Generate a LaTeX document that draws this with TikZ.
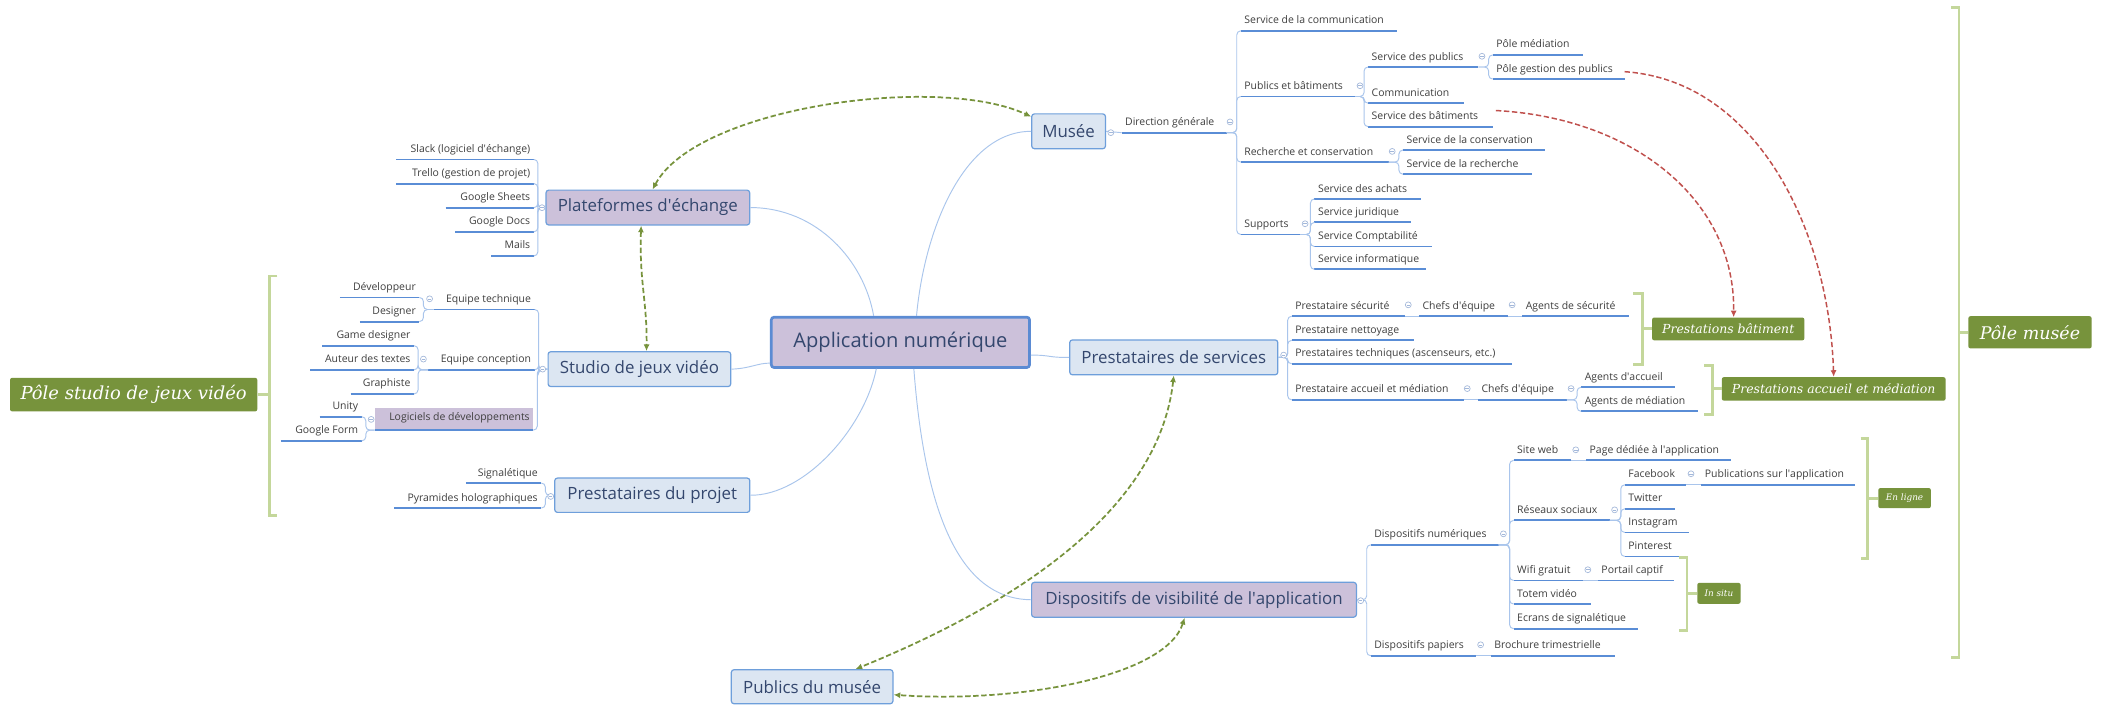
\documentclass[tikz,border=0pt]{standalone}
\usepackage{fontspec}
\setmainfont{Open Sans}
\newfontfamily\labfont{DejaVu Serif}
\usetikzlibrary{arrows.meta}
\newcommand\aq{\textquotesingle}
\definecolor{boxfill}{HTML}{DCE6F2}
\definecolor{lavfill}{HTML}{CCC1DA}
\definecolor{boxline}{HTML}{6E9FDB}
\definecolor{cboxline}{HTML}{5B8BD3}
\definecolor{boxtext}{HTML}{34476E}
\definecolor{subtext}{HTML}{3F3F3F}
\definecolor{ulcol}{HTML}{5A8DD6}
\definecolor{brcol}{HTML}{A9C5EC}
\definecolor{mkcol}{HTML}{A3B8DA}
\definecolor{grncol}{HTML}{77933C}
\definecolor{brkcol}{HTML}{C4D79B}
\definecolor{redcol}{HTML}{C0504D}
\tikzset{
  tbox/.style={draw=boxline, line width=0.9pt, rounded corners=2pt, fill=boxfill, text=boxtext, font=\fontsize{12.6}{14}\selectfont, inner sep=0pt},
  tboxL/.style={tbox, fill=lavfill},
  cbox/.style={tbox, fill=lavfill, line width=2pt, draw=cboxline, font=\fontsize{15}{17}\selectfont},
  stx/.style={inner xsep=2.5pt, inner ysep=0.8pt, text height=6.3pt, text depth=4.2pt, text=subtext, font=\fontsize{7.8}{9}\selectfont},
  uln/.style={draw=ulcol, line width=1.4pt},
  brn/.style={draw=brcol, line width=0.7pt, rounded corners=3pt},
  mkr/.style={circle, draw=mkcol, line width=0.5pt, inner sep=0pt, minimum size=4.4pt, fill=white,
    path picture={\draw[mkcol, line width=0.4pt] ([xshift=-1.3pt]path picture bounding box.center) -- ([xshift=1.3pt]path picture bounding box.center);}},
  lbl/.style={fill=grncol, rounded corners=1.5pt, text=white, inner sep=0pt, font=\labfont\itshape},
  brkt/.style={draw=brkcol, line width=2.2pt},
  grel/.style={draw=grncol, line width=1.3pt, dash pattern=on 4pt off 2pt, {Latex[length=5pt,width=4.5pt]}-{Latex[length=5pt,width=4.5pt]}},
  rrel/.style={draw=redcol, line width=1.1pt, dash pattern=on 4pt off 2pt, -{Latex[length=5pt,width=4.5pt]}}
}
\newcommand\mmR[5]{\node[stx, anchor=south west, minimum width={#3-#2}] (#1) at (#2,#4) {\makebox[\dimexpr #3pt-#2pt-5pt\relax][l]{#5}};\draw[uln] (#1.south west) -- (#1.south east);}
\newcommand\mmL[5]{\node[stx, anchor=south east, minimum width={#3-#2}] (#1) at (#3,#4) {\makebox[\dimexpr #3pt-#2pt-5pt\relax][r]{#5}};\draw[uln] (#1.south west) -- (#1.south east);}
\newcommand\brR[2]{\draw[brn] (#1) -| ([xshift=-3pt]#2.south west) -- (#2.south west);}
\newcommand\brL[2]{\draw[brn] (#1) -| ([xshift=3pt]#2.south east) -- (#2.south east);}
\newcommand\chn[2]{\draw[brn] (#1.south east) -- (#2.south west);}
\begin{document}
\begin{tikzpicture}[x=1pt,y=-1pt]
\fill[white] (0,0) rectangle (1568,526);
\useasboundingbox (0,0) rectangle (1568,526);

% ---------- main topics ----------
\node[cbox, minimum width=192.7, minimum height=37.5] (center) at (672,255.5) {Application numérique};
\node[tboxL, minimum width=152, minimum height=26] (plat) at (483.5,154.9) {Plateformes d\aq échange};
\node[tbox, minimum width=136.3, minimum height=26] (studio) at (477.2,275.5) {Studio de jeux vidéo};
\node[tbox, minimum width=145.6, minimum height=25.6] (projet) at (486.8,369.6) {Prestataires du projet};
\node[tbox, minimum width=55, minimum height=26] (musee) at (797.5,98) {Musée};
\node[tbox, minimum width=155.3, minimum height=26] (presta) at (876,266.7) {Prestataires de services};
\node[tboxL, minimum width=242.4, minimum height=26] (dispo) at (891.1,447.6) {Dispositifs de visibilité de l\aq application};
\node[tbox, minimum width=120.6, minimum height=25.4] (publics) at (606.1,512.5) {Publics du musée};

% ---------- central connectors ----------
\draw[brn] (plat.east) .. controls (610,155) and (645,195) .. ([xshift=-20pt]center.north);
\draw[brn] (musee.west) .. controls (720,98) and (690,170) .. ([xshift=12pt]center.north);
\draw[brn] (studio.east) .. controls (560,275) and (565,271) .. ([yshift=-15.5pt]center.west);
\draw[brn] (projet.east) .. controls (600,370) and (645,320) .. ([xshift=-18pt]center.south);
\draw[brn] ([yshift=-9.5pt]center.east) .. controls (785,265) and (782,267) .. (presta.west);
\draw[brn] ([xshift=10pt]center.south) .. controls (690,380) and (715,447) .. (dispo.west);

% ---------- Musée subtree ----------
\mmR{dirg}{837}{915}{99}{Direction générale}
\draw[brn] (musee.east) -- (dirg.south west);
\mmR{comm0}{926}{1042}{23}{Service de la communication}
\mmR{pubbat}{926}{1011}{72}{Publics et bâtiments}
\mmR{recons}{926}{1036}{121}{Recherche et conservation}
\mmR{supp}{926}{970}{175}{Supports}
\brR{dirg.south east}{comm0}\brR{dirg.south east}{pubbat}\brR{dirg.south east}{recons}\brR{dirg.south east}{supp}
\mmR{servpub}{1021}{1103}{50}{Service des publics}
\mmR{comm1}{1021}{1092}{77}{Communication}
\mmR{servbat}{1021}{1114}{94.5}{Service des bâtiments}
\brR{pubbat.south east}{servpub}\brR{pubbat.south east}{comm1}\brR{pubbat.south east}{servbat}
\mmR{polmed}{1114}{1181}{41}{Pôle médiation}
\mmR{polges}{1114}{1212}{59}{Pôle gestion des publics}
\brR{servpub.south east}{polmed}\brR{servpub.south east}{polges}
\mmR{sercons}{1047}{1153}{112}{Service de la conservation}
\mmR{serrech}{1047}{1143}{130}{Service de la recherche}
\brR{recons.south east}{sercons}\brR{recons.south east}{serrech}
\mmR{achats}{981}{1060}{148.5}{Service des achats}
\mmR{jurid}{981}{1053}{166}{Service juridique}
\mmR{compta}{981}{1068}{184}{Service Comptabilité}
\mmR{info}{981}{1064}{201}{Service informatique}
\brR{supp.south east}{achats}\brR{supp.south east}{jurid}\brR{supp.south east}{compta}\brR{supp.south east}{info}

% ---------- Prestataires de services subtree ----------
\mmR{psecu}{964}{1048}{236}{Prestataire sécurité}
\mmR{chefa}{1059}{1125}{236}{Chefs d\aq équipe}
\mmR{agsecu}{1136}{1215}{236}{Agents de sécurité}
\chn{psecu}{chefa}\chn{chefa}{agsecu}
\mmR{pnett}{964}{1055}{254}{Prestataire nettoyage}
\mmR{ptech}{964}{1128}{271.5}{Prestataires techniques (ascenseurs, etc.)}
\mmR{paccu}{964}{1092}{298.4}{Prestataire accueil et médiation}
\mmR{chefb}{1103}{1169}{298.4}{Chefs d\aq équipe}
\chn{paccu}{chefb}
\mmR{agacc}{1180}{1250}{289}{Agents d\aq accueil}
\mmR{agmed}{1180}{1267}{307}{Agents de médiation}
\brR{chefb.south east}{agacc}\brR{chefb.south east}{agmed}
\brR{presta.east}{psecu}\brR{presta.east}{pnett}\brR{presta.east}{ptech}\brR{presta.east}{paccu}

% ---------- Dispositifs subtree ----------
\mmR{dnum}{1023}{1118}{406.6}{Dispositifs numériques}
\mmR{dpap}{1023}{1101}{489.4}{Dispositifs papiers}
\mmR{broch}{1112.5}{1204.6}{489.4}{Brochure trimestrielle}
\chn{dpap}{broch}
\brR{dispo.east}{dnum}\brR{dispo.east}{dpap}
\mmR{siteweb}{1129.6}{1172.3}{343.6}{Site web}
\mmR{pageded}{1183.7}{1291.4}{343.6}{Page dédiée à l\aq application}
\chn{siteweb}{pageded}
\mmR{reseaux}{1129.6}{1201}{388.4}{Réseaux sociaux}
\mmR{wifi}{1129.6}{1181}{433.2}{Wifi gratuit}
\mmR{portail}{1192.5}{1249}{433.2}{Portail captif}
\chn{wifi}{portail}
\mmR{totem}{1129.6}{1186.7}{450.8}{Totem vidéo}
\mmR{ecrans}{1129.6}{1221.8}{469.2}{Ecrans de signalétique}
\brR{dnum.south east}{siteweb}\brR{dnum.south east}{reseaux}\brR{dnum.south east}{wifi}\brR{dnum.south east}{totem}\brR{dnum.south east}{ecrans}
\mmR{fb}{1212.6}{1258}{361.8}{Facebook}
\mmR{pubapp}{1269.7}{1384}{361.8}{Publications sur l\aq application}
\chn{fb}{pubapp}
\mmR{tw}{1212.6}{1249.5}{379.7}{Twitter}
\mmR{insta}{1212.6}{1260}{397.4}{Instagram}
\mmR{pint}{1212.6}{1257}{415.3}{Pinterest}
\brR{reseaux.south east}{fb}\brR{reseaux.south east}{tw}\brR{reseaux.south east}{insta}\brR{reseaux.south east}{pint}

% ---------- left side ----------
\mmL{slack}{296}{398.4}{119}{Slack (logiciel d\aq échange)}
\mmL{trello}{296}{398.4}{137}{Trello (gestion de projet)}
\mmL{gsheets}{333}{398.4}{155}{Google Sheets}
\mmL{gdocs}{340}{398.4}{173}{Google Docs}
\mmL{mails}{367}{398.4}{191}{Mails}
\brL{plat.west}{slack}\brL{plat.west}{trello}\brL{plat.west}{gsheets}\brL{plat.west}{gdocs}\brL{plat.west}{mails}

\mmL{eqtech}{324}{399}{231}{Equipe technique}
\mmL{eqconc}{320}{399}{276}{Equipe conception}
\node[stx, fill=lavfill, anchor=south east, minimum width=118, minimum height=16] (logic) at (398,321) {\makebox[113pt][r]{Logiciels de développements}};
\draw[uln] (logic.south west) -- (logic.south east);
\brL{studio.west}{eqtech}\brL{studio.west}{eqconc}\brL{studio.west}{logic}
\mmL{dev}{254}{313}{222}{Développeur}
\mmL{desig}{269}{313}{240}{Designer}
\brL{eqtech.south west}{dev}\brL{eqtech.south west}{desig}
\mmL{gamed}{241}{309}{258}{Game designer}
\mmL{auteur}{232}{309}{276}{Auteur des textes}
\mmL{graph}{262}{309}{294}{Graphiste}
\brL{eqconc.south west}{gamed}\brL{eqconc.south west}{auteur}\brL{eqconc.south west}{graph}
\mmL{unity}{239}{270}{311}{Unity}
\mmL{gform}{210}{270}{329}{Google Form}
\brL{logic.south west}{unity}\brL{logic.south west}{gform}

\mmL{signal}{348}{404}{360.5}{Signalétique}
\mmL{pyram}{294.7}{404}{379.2}{Pyramides holographiques}
\brL{projet.west}{signal}\brL{projet.west}{pyram}

% ---------- markers ----------
\foreach \p/\q in {829/99, 918/91, 1015/64, 1106/42, 1039/113, 974/167, 958/265, 1051/227.5, 1128.5/227.5, 1095/290, 1172.5/290, 1015.5/448.3, 1122/398.4, 1176/335.7, 1205/380.5, 1262/353.6, 1185/425.2, 1105/481.2, 404.5/155, 405/275.5, 411/370.5, 320.6/223, 316/268, 277/313}
  \node[mkr] at (\p,\q) {};

% ---------- summary labels ----------
\node[lbl, minimum width=92, minimum height=24] (polemusee) at (1515,248) {\fontsize{13}{14}\selectfont Pôle musée};
\node[lbl, minimum width=184.5, minimum height=25] (polestudio) at (99.75,294.5) {\fontsize{13.4}{14}\selectfont Pôle studio de jeux vidéo};
\node[lbl, minimum width=113.6, minimum height=17] (batbox) at (1289.8,245.5) {\fontsize{9.3}{11}\selectfont Prestations bâtiment};
\node[lbl, minimum width=167, minimum height=17.5] (accbox) at (1368.5,290.25) {\fontsize{9.3}{11}\selectfont Prestations accueil et médiation};
\node[lbl, minimum width=39.2, minimum height=15] (enligne) at (1421.4,371.75) {\fontsize{6.6}{8}\selectfont En ligne};
\node[lbl, minimum width=32.3, minimum height=15.6] (insitu) at (1282.85,442.8) {\fontsize{6.6}{8}\selectfont In situ};

\draw[brkt] (1456,5.5) -- (1462,5.5) -- (1462,491) -- (1456,491);
\coordinate (bm) at (1462,248); \draw[brkt] (bm) -- (polemusee.west);
\draw[brkt] (207,206) -- (201,206) -- (201,385) -- (207,385);
\coordinate (bs) at (201,294.5); \draw[brkt] (bs) -- (polestudio.east);
\draw[brkt] (1219,219) -- (1225.5,219) -- (1225.5,272.3) -- (1219,272.3);
\coordinate (bb) at (1225.5,245.5); \draw[brkt] (bb) -- (batbox.west);
\draw[brkt] (1272,273) -- (1278,273) -- (1278,309) -- (1272,309);
\coordinate (ba) at (1278,290.25); \draw[brkt] (ba) -- (accbox.west);
\draw[brkt] (1388.5,327) -- (1394,327) -- (1394,416.5) -- (1388.5,416.5);
\coordinate (be) at (1394,371.75); \draw[brkt] (be) -- (enligne.west);
\draw[brkt] (1253.4,415.8) -- (1259,415.8) -- (1259,470.5) -- (1253.4,470.5);
\coordinate (bi) at (1259,442.8); \draw[brkt] (bi) -- (insitu.west);

% ---------- relationships ----------
\draw[grel] ([xshift=3.5pt]plat.north) .. controls (520,80) and (700,55) .. ([yshift=-2.5pt]musee.north west);
\draw[grel] ([xshift=-5pt]plat.south) .. controls (477,210) and (483,225) .. ([xshift=5.3pt]studio.north);
\draw[grel] (presta.south) .. controls (865,380) and (760,450) .. ([xshift=32.4pt]publics.north);
\draw[grel] ([xshift=-7pt]dispo.south) .. controls (870,505) and (760,525) .. ([yshift=-6pt]publics.east);
\draw[rrel] ([yshift=5.5pt]polges.south east) .. controls (1310,60) and (1365,170) .. (accbox.north);
\draw[rrel] ([xshift=2pt,yshift=12pt]servbat.south east) .. controls (1220,88) and (1295,150) .. ([xshift=4pt]batbox.north);
\end{tikzpicture}
\end{document}
